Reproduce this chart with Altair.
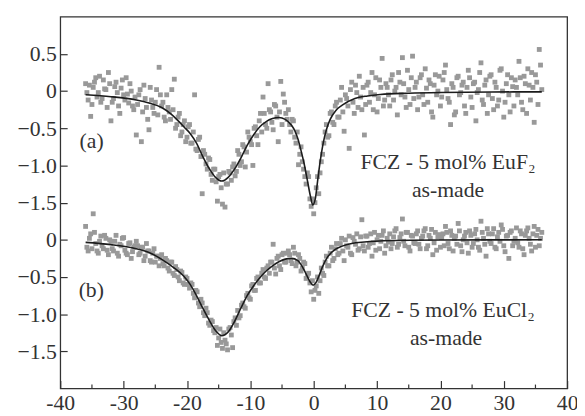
import altair as alt
import pandas as pd

# ---------------- data ----------------
# velocity channels: two interleaved sweeps
VEL_START = -36.0
VEL2_START = -35.8
VEL_STEP = 0.4

# (a) FCZ - 5 mol% EuF2, measured points, first sweep
A_COUNTS = [
    0.10, -0.12, -0.34, 0.05, 0.18, -0.02, -0.15, 0.15, 0.02, 0.25,
    -0.40, -0.10, 0.12, -0.20, 0.04, -0.05, 0.18, -0.16, 0.00, -0.25,
    -0.59, -0.05, -0.68, 0.08, -0.22, -0.52, -0.12, -0.30, 0.02, 0.32,
    -0.20, -0.35, -0.05, -0.28, 0.02, 0.16, -0.45, -0.30, -0.55, -0.40,
    -0.62, -0.45, -0.70, -0.05, -0.80, -0.62, -1.38, -0.85, -1.05, -0.92,
    -1.20, -1.05, -1.48, -1.12, -1.52, -1.56, -1.25, -1.10, -1.02, -1.14,
    -0.80, -1.00, -0.72, -1.02, -0.55, -0.68, -1.00, -0.48, -0.72, -0.30,
    -0.08, -0.45, 0.10, -0.28, -0.52, -0.20, -0.68, 0.13, -0.04, -0.30,
    -0.25, -0.55, -0.40, -0.70, -0.99, -0.75, -1.05, -1.25, -1.15, -1.55,
    -1.65, -1.30, -1.38, -0.95, -0.70, -0.45, -0.60, -0.28, -0.45, -0.15,
    -0.35, 0.05, -0.54, -0.10, -0.77, 0.12, -0.30, -0.02, 0.20, -0.25,
    -0.59, 0.08, -0.15, 0.25, -0.05, -0.28, 0.15, 0.44, -0.12, 0.05,
    -0.20, 0.22, 0.00, -0.32, 0.12, 0.45, -0.08, 0.28, -0.18, 0.47,
    0.05, -0.25, 0.18, -0.05, 0.30, -0.15, 0.10, -0.35, 0.22, 0.00,
    -0.20, 0.15, 0.35, -0.10, -0.45, 0.05, -0.28, 0.20, -0.02, 0.12,
    -0.30, 0.28, -0.08, 0.10, -0.40, 0.02, 0.38, -0.18, 0.15, -0.05,
    0.22, -0.25, 0.05, -0.12, 0.30, -0.35, 0.10, -0.05, 0.18, -0.20,
    0.05, 0.40, -0.15, 0.20, -0.30, 0.08, 0.25, -0.42, 0.12, 0.56,
    0.02,
]
# (a) second sweep
A_COUNTS_2 = [
    -0.02, 0.08, -0.18, 0.12, -0.08, 0.20, -0.10, 0.03, -0.22, 0.10,
    -0.15, 0.06, -0.02, -0.30, 0.15, -0.12, -0.04, 0.10, -0.20, -0.08,
    -0.18, 0.02, -0.28, -0.10, -0.38, 0.05, -0.22, -0.15, -0.32, -0.05,
    -0.15, -0.40, -0.22, -0.38, -0.25, -0.50, -0.35, -0.60, -0.45, -0.68,
    -0.48, -0.70, -0.55, -0.78, -0.65, -0.88, -0.80, -0.98, -0.90, -1.12,
    -1.05, -1.22, -1.15, -1.30, -1.10, -1.25, -1.08, -1.20, -0.98, -1.08,
    -0.85, -0.95, -0.75, -0.82, -0.62, -0.72, -0.50, -0.60, -0.40, -0.55,
    -0.30, -0.50, -0.25, -0.42, -0.18, -0.35, -0.28, -0.45, -0.15, -0.38,
    -0.45, -0.38, -0.62, -0.55, -0.85, -0.95, -1.15, -1.10, -1.45, -1.45,
    -1.50, -1.15, -1.10, -0.85, -0.55, -0.62, -0.30, -0.42, -0.20, -0.35,
    -0.12, -0.28, -0.05, -0.20, 0.02, -0.15, 0.08, -0.22, -0.08, 0.05,
    -0.18, 0.12, -0.02, -0.25, 0.18, -0.10, 0.05, -0.20, 0.10, -0.05,
    0.15, -0.12, 0.05, 0.25, -0.05, 0.10, -0.22, 0.02, 0.18, -0.10,
    0.12, -0.08, 0.22, -0.18, 0.04, 0.15, -0.28, 0.08, -0.05, 0.20,
    -0.08, 0.25, 0.02, -0.15, 0.10, -0.32, 0.18, -0.05, 0.08, -0.20,
    0.05, 0.18, -0.22, 0.12, -0.02, 0.25, -0.12, 0.08, -0.30, 0.20,
    -0.10, 0.12, -0.20, 0.28, 0.00, -0.15, 0.22, -0.28, 0.06, 0.15,
    -0.05, 0.18, -0.25, 0.10, 0.30, -0.12, 0.05, 0.22, -0.18, 0.35,
]

# (b) FCZ - 5 mol% EuCl2, measured points, first sweep
B_COUNTS = [
    0.18, -0.15, 0.08, 0.35, -0.05, -0.18, 0.05, -0.12, 0.02, -0.20,
    -0.02, -0.15, 0.06, -0.22, -0.08, 0.03, -0.18, -0.05, -0.25, -0.10,
    -0.02, -0.20, -0.10, -0.28, -0.05, -0.15, -0.30, -0.12, -0.22, -0.35,
    -0.20, -0.35, -0.28, -0.42, -0.30, -0.48, -0.40, -0.55, -0.44, -0.60,
    -0.52, -0.65, -0.60, -0.78, -0.70, -0.90, -0.85, -1.02, -0.98, -1.15,
    -1.10, -1.25, -1.42, -1.20, -1.46, -1.35, -1.48, -1.18, -1.45, -1.05,
    -0.95, -1.02, -0.85, -0.92, -0.72, -0.80, -0.60, -0.68, -0.50, -0.58,
    -0.40, -0.52, -0.35, -0.30, -0.06, -0.46, -0.22, -0.40, -0.18, -0.30,
    -0.15, -0.28, -0.10, -0.35, -0.20, -0.42, -0.30, -0.52, -0.45, -0.70,
    -0.80, -0.62, -0.72, -0.38, -0.48, -0.22, -0.35, -0.10, -0.25, -0.05,
    -0.18, 0.02, -0.28, -0.08, 0.05, -0.20, -0.02, 0.08, -0.12, 0.27,
    -0.15, 0.05, -0.05, -0.22, 0.10, 0.00, -0.12, 0.06, -0.18, 0.02,
    0.08, -0.05, 0.12, -0.10, 0.03, 0.28, -0.08, 0.10, -0.15, 0.05,
    -0.05, 0.12, -0.12, 0.05, 0.15, -0.08, 0.02, -0.20, 0.10, 0.04,
    -0.10, 0.08, 0.18, -0.05, 0.12, -0.15, 0.05, 0.22, -0.08, 0.00,
    0.10, -0.18, 0.06, -0.05, 0.14, -0.10, 0.25, 0.02, -0.22, 0.08,
    -0.05, 0.15, -0.12, 0.10, 0.20, -0.08, 0.05, -0.25, 0.12, -0.02,
    0.16, -0.10, 0.08, -0.20, 0.12, 0.02, -0.15, 0.18, 0.06, -0.08,
    0.10,
]
# (b) second sweep
B_COUNTS_2 = [
    -0.10, 0.02, -0.12, 0.10, -0.15, -0.02, -0.08, 0.06, -0.14, 0.00,
    -0.12, -0.02, -0.18, -0.06, 0.02, -0.14, -0.20, -0.04, -0.16, -0.08,
    -0.08, -0.18, -0.10, -0.22, -0.15, -0.28, -0.18, -0.30, -0.22, -0.25,
    -0.32, -0.25, -0.38, -0.30, -0.45, -0.36, -0.50, -0.42, -0.58, -0.50,
    -0.60, -0.58, -0.72, -0.68, -0.85, -0.80, -0.98, -0.92, -1.12, -1.08,
    -1.22, -1.18, -1.32, -1.38, -1.25, -1.40, -1.20, -1.28, -1.10, -1.15,
    -1.05, -0.88, -0.90, -0.75, -0.78, -0.62, -0.68, -0.52, -0.58, -0.45,
    -0.50, -0.38, -0.45, -0.30, -0.38, -0.25, -0.35, -0.20, -0.30, -0.18,
    -0.20, -0.32, -0.18, -0.30, -0.25, -0.38, -0.32, -0.48, -0.58, -0.55,
    -0.68, -0.50, -0.55, -0.45, -0.30, -0.35, -0.18, -0.28, -0.12, -0.20,
    -0.05, -0.15, 0.00, -0.10, -0.18, 0.03, -0.06, -0.14, 0.04, -0.08,
    0.05, -0.10, 0.08, -0.04, -0.14, 0.06, -0.02, 0.12, -0.08, -0.03,
    -0.12, 0.04, 0.15, -0.06, 0.08, -0.02, 0.10, -0.10, 0.06, -0.04,
    0.08, -0.06, 0.02, 0.12, -0.12, 0.06, 0.14, -0.04, -0.14, 0.07,
    0.03, -0.08, 0.10, -0.12, 0.06, 0.02, -0.06, 0.12, -0.16, 0.05,
    -0.04, 0.12, -0.10, 0.08, 0.00, -0.14, 0.10, -0.06, 0.15, -0.02,
    0.08, -0.10, 0.04, -0.02, 0.14, -0.16, 0.06, 0.10, -0.08, 0.02,
    -0.04, 0.12, -0.12, 0.06, 0.16, -0.06, 0.08, -0.10, 0.14, 0.02,
]

# fitted curves
FIT_A_X = [-36, -32, -28, -26, -24, -22.5, -21.5, -20.5, -19.5, -18.5, -17.5, -16.5,
           -15.5, -14.5, -13.5, -12.5, -11.5, -10.5, -9.5, -8.5, -7.5, -6.5, -5.5,
           -4.5, -3.5, -3.0, -2.5, -2.0, -1.5, -1.0, -0.5, -0.15, 0.25, 0.6, 1.0,
           1.5, 2.0, 2.6, 3.5, 4.5, 6.5, 8.5, 10.5, 15, 20, 28, 36]
FIT_A_Y = [-0.05, -0.075, -0.12, -0.16, -0.22, -0.31, -0.39, -0.48, -0.57, -0.70, -0.88, -1.04,
           -1.16, -1.21, -1.16, -1.05, -0.90, -0.73, -0.59, -0.48, -0.41, -0.37, -0.355,
           -0.38, -0.46, -0.53, -0.64, -0.80, -0.98, -1.20, -1.42, -1.53, -1.45, -1.22, -0.96,
           -0.70, -0.52, -0.38, -0.26, -0.19, -0.10, -0.065, -0.045, -0.028, -0.018, -0.012, -0.01]

FIT_B_X = [-36, -32, -28.5, -26, -23.5, -22, -20.5, -19.5, -18.5, -17.5, -16.5, -15.5,
           -14.5, -13.5, -12.5, -11.5, -10.5, -9.5, -8.5, -7.5, -6.5, -5.5, -4.5, -3.5,
           -2.5, -1.8, -1.2, -0.6, -0.1, 0.4, 0.9, 1.4, 2.2, 3.4, 4.5, 6, 8, 11, 20, 36]
FIT_B_Y = [-0.035, -0.065, -0.11, -0.17, -0.29, -0.38, -0.49, -0.60, -0.75, -0.92, -1.08, -1.22,
           -1.29, -1.24, -1.10, -0.92, -0.75, -0.62, -0.51, -0.42, -0.35, -0.295, -0.26, -0.25,
           -0.28, -0.36, -0.46, -0.56, -0.61, -0.57, -0.47, -0.36, -0.23, -0.13, -0.085, -0.05,
           -0.03, -0.012, -0.002, 0.0]

B_OFFSET = -2.0   # spectrum (b) is drawn 2 units below spectrum (a)

X_TICKS = [-40, -30, -20, -10, 0, 10, 20, 30, 40]
X_MINOR_TICKS = [-35, -25, -15, -5, 5, 15, 25, 35]
Y_TICK_VALUES = [0.5, 0, -0.5, -1, -1.5, -2, -2.5, -3, -3.5]
Y_TICK_LABELS = ["0.5", "0", "\u22120.5", "\u22121.0", "\u22121.5", "0", "\u22120.5", "\u22121.0", "\u22121.5"]

LABEL_TEXT = ["(a)", "(b)", "FCZ - 5 mol% EuF\u2082", "as-made", "FCZ - 5 mol% EuCl\u2082", "as-made"]
LABEL_X = [-36.95, -37.1, 21.2, 21.2, 20.4, 20.9]
LABEL_Y = [-0.765, -2.773, -1.048, -1.42, -3.04, -3.415]
LABEL_ALIGN = ["left", "left", "center", "center", "center", "center"]

# ---------------- build chart ----------------
W, H = 514, 377
FONT = "Liberation Serif"
FS = 22
INK = "#333333"

vel1 = [round(VEL_START + VEL_STEP * i, 1) for i in range(len(A_COUNTS))]
vel2 = [round(VEL2_START + VEL_STEP * i, 1) for i in range(len(A_COUNTS_2))]
pts = pd.DataFrame({
    "x": vel1 + vel2 + vel1 + vel2,
    "y": A_COUNTS + A_COUNTS_2 + [v + B_OFFSET for v in B_COUNTS + B_COUNTS_2],
})
fit = pd.DataFrame({
    "x": FIT_A_X + FIT_B_X,
    "y": FIT_A_Y + [v + B_OFFSET for v in FIT_B_Y],
    "s": ["a"] * len(FIT_A_X) + ["b"] * len(FIT_B_X),
})
labels = pd.DataFrame({"x": LABEL_X, "y": LABEL_Y, "t": LABEL_TEXT, "al": LABEL_ALIGN})
minor = pd.DataFrame({"x": X_MINOR_TICKS})

y_expr = " : ".join(f"datum.value == {v} ? '{l}'" for v, l in zip(Y_TICK_VALUES, Y_TICK_LABELS)) + " : ''"

xscale = alt.Scale(domain=[-40, 40], nice=False, zero=False)
yscale = alt.Scale(domain=[-4, 1], nice=False, zero=False)

xaxis = alt.Axis(values=X_TICKS, labelExpr="'' + datum.value", domain=False, grid=False,
                 tickSize=8, offset=-8, labelPadding=4, labelFont=FONT, labelFontSize=FS,
                 labelColor=INK, tickColor=INK, tickWidth=1.2, title=None,
                 labelFlush=False, labelOverlap=False)
yaxis = alt.Axis(values=Y_TICK_VALUES, labelExpr=y_expr, domain=False, grid=False,
                 tickSize=7, offset=-7, labelPadding=4, labelFont=FONT, labelFontSize=FS,
                 labelColor=INK, tickColor=INK, tickWidth=1.2, title=None,
                 labelFlush=False, labelOverlap=False)

X = alt.X("x:Q", scale=xscale, axis=xaxis)
Y = alt.Y("y:Q", scale=yscale, axis=yaxis)

scatter = alt.Chart(pts).mark_square(size=24, color="#999999", opacity=1).encode(x=X, y=Y)
curves = alt.Chart(fit).mark_line(color="#1c1c1c", strokeWidth=1.6, interpolate="monotone").encode(
    x=X, y=Y, detail="s:N")
minor_ticks = alt.Chart(minor).mark_rule(color=INK, strokeWidth=1.2).encode(
    x=X, y=alt.value(H), y2=alt.value(H - 4))

text_left = alt.Chart(labels[labels["al"] == "left"]).mark_text(
    font=FONT, fontSize=FS, color=INK, baseline="alphabetic", align="left").encode(x=X, y=Y, text="t:N")
text_center = alt.Chart(labels[labels["al"] == "center"]).mark_text(
    font=FONT, fontSize=FS, color=INK, baseline="alphabetic", align="center").encode(x=X, y=Y, text="t:N")

chart = alt.layer(scatter, curves, minor_ticks, text_left, text_center).properties(
    width=W, height=H,
    padding={"left": 53, "top": 6, "right": 10, "bottom": 25},
    autosize="none",
    background="white",
).configure_view(stroke=INK, strokeWidth=1.3)

chart.save("out.html", embed_options={"renderer": "svg", "actions": False})
